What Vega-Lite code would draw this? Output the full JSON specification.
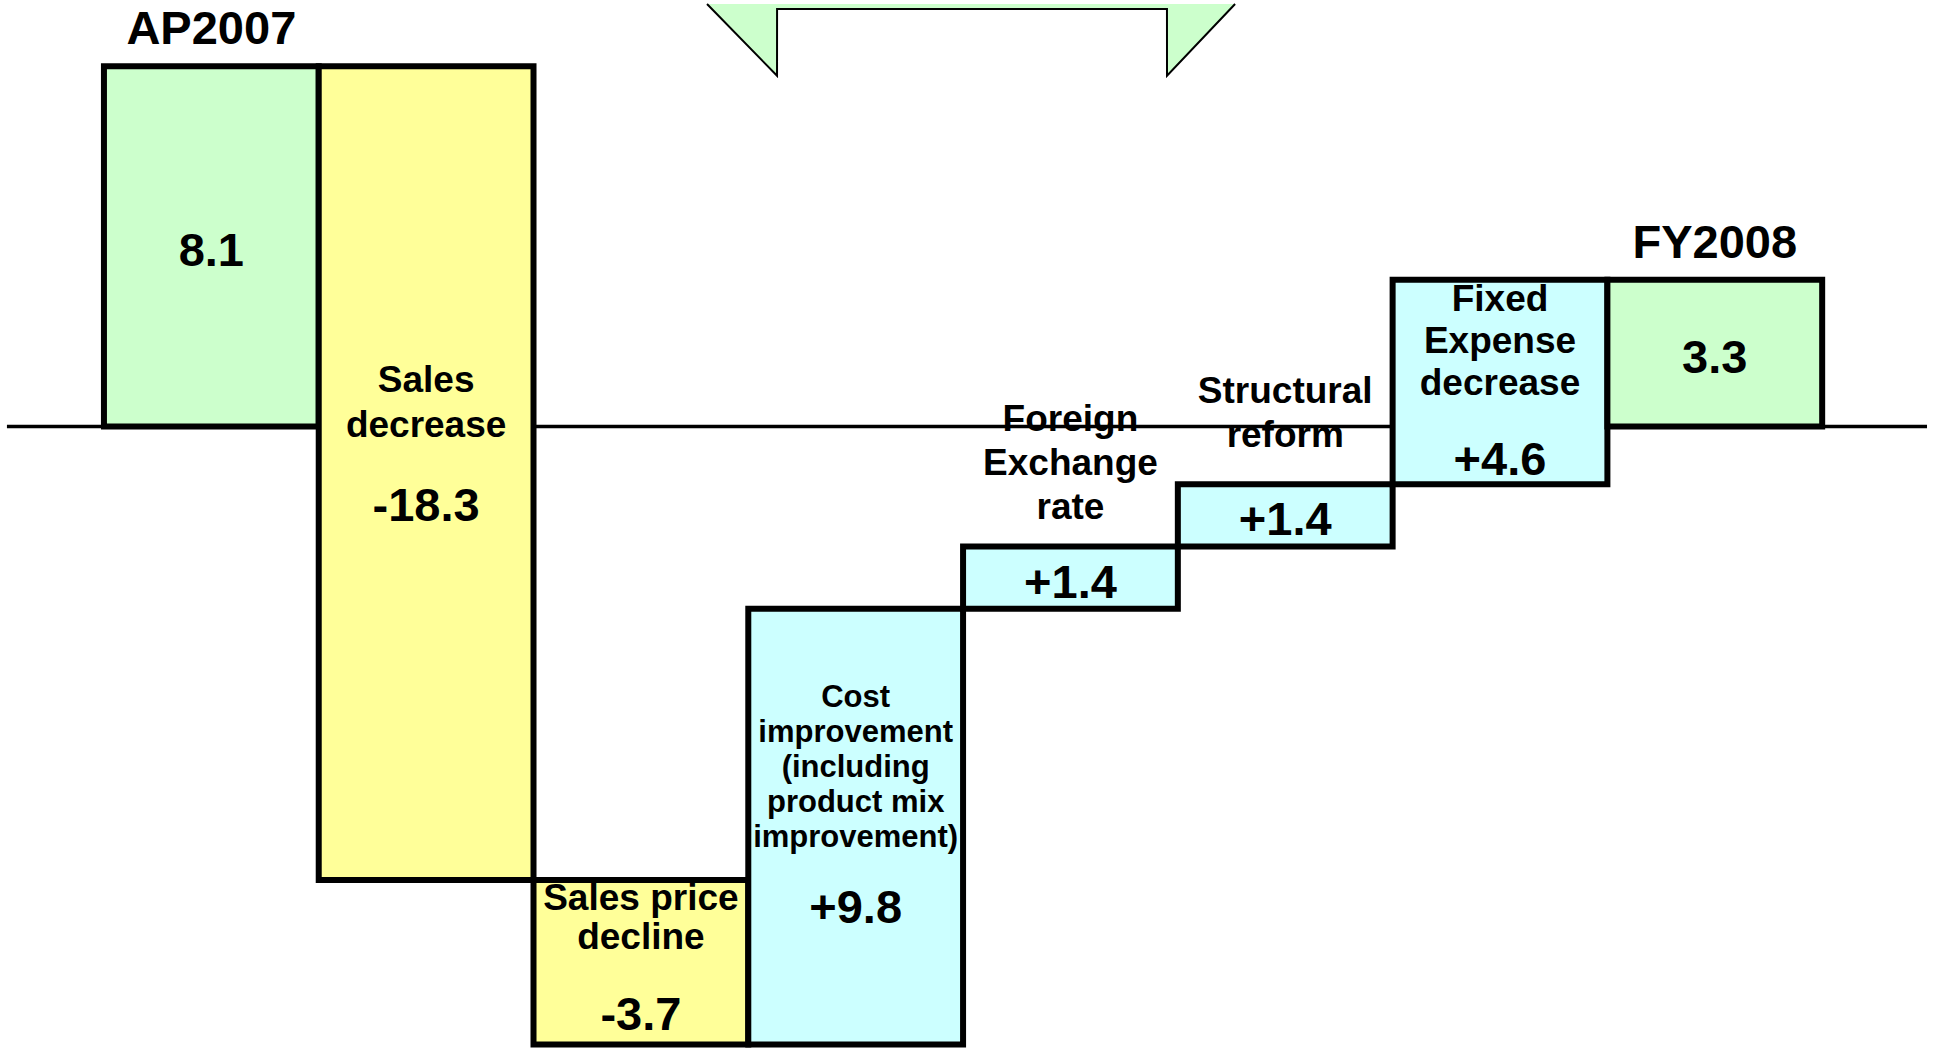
{
  "$schema": "https://vega.github.io/schema/vega-lite/v6.json",
  "width": 1933,
  "height": 1049,
  "autosize": {"type": "fit", "contains": "padding"},
  "padding": 0,
  "background": "white",
  "config": {
    "view": {"stroke": null},
    "text": {"font": "Liberation Sans", "fontWeight": "bold", "color": "black", "align": "center", "lineBreak": "\n"}
  },
  "datasets": {
    "steps": [
      {"step": "AP2007", "label": "AP2007", "kind": "total", "amount": 8.1, "start": 0, "end": 8.1, "value": "8.1"},
      {"step": "Sales decrease", "label": "Sales\ndecrease", "kind": "decrease", "amount": -18.3, "start": 8.1, "end": -10.2, "value": "-18.3"},
      {"step": "Sales price decline", "label": "Sales price\ndecline", "kind": "decrease", "amount": -3.7, "start": -10.2, "end": -13.9, "value": "-3.7"},
      {"step": "Cost improvement", "label": "Cost\nimprovement\n(including\nproduct mix\nimprovement)", "kind": "increase", "amount": 9.8, "start": -13.9, "end": -4.1, "value": "+9.8"},
      {"step": "Foreign Exchange rate", "label": "Foreign\nExchange\nrate", "kind": "increase", "amount": 1.4, "start": -4.1, "end": -2.7, "value": "+1.4"},
      {"step": "Structural reform", "label": "Structural\nreform", "kind": "increase", "amount": 1.4, "start": -2.7, "end": -1.3, "value": "+1.4"},
      {"step": "Fixed Expense decrease", "label": "Fixed\nExpense\ndecrease", "kind": "increase", "amount": 4.6, "start": -1.3, "end": 3.3, "value": "+4.6"},
      {"step": "FY2008", "label": "FY2008", "kind": "total", "amount": 3.3, "start": 0, "end": 3.3, "value": "3.3"}
    ],
    "arrow": [
      {"i": 0, "ax": 2.808, "ay": 9.5},
      {"i": 1, "ax": 3.134, "ay": 7.887},
      {"i": 2, "ax": 3.1342, "ay": 9.388},
      {"i": 3, "ax": 4.9498, "ay": 9.388},
      {"i": 4, "ax": 4.95, "ay": 7.887},
      {"i": 5, "ax": 5.267, "ay": 9.5}
    ]
  },
  "resolve": {"scale": {"x": "independent"}},
  "layer": [
    {
      "data": {"values": [{"z": 0}]},
      "mark": {"type": "rule", "stroke": "black", "strokeWidth": 3.5},
      "encoding": {
        "x": {"datum": -0.452, "type": "quantitative", "scale": {"domain": [-0.4843, 8.5169], "nice": false, "zero": false}, "axis": null},
        "x2": {"datum": 8.489},
        "y": {"field": "z", "type": "quantitative", "scale": {"domain": [-14, 9.5], "nice": false, "zero": false}, "axis": null}
      }
    },
    {
      "data": {"name": "arrow"},
      "mark": {"type": "area", "fill": "#CCFFCC", "opacity": 1},
      "encoding": {
        "x": {"field": "ax", "type": "quantitative", "scale": {"domain": [-0.4843, 8.5169], "nice": false, "zero": false}, "axis": null},
        "y": {"field": "ay", "type": "quantitative", "stack": null, "scale": {"domain": [-14, 9.5], "nice": false, "zero": false}, "axis": null},
        "y2": {"datum": 9.5}
      }
    },
    {
      "data": {"name": "arrow"},
      "mark": {"type": "line", "stroke": "black", "strokeWidth": 2},
      "encoding": {
        "x": {"field": "ax", "type": "quantitative", "scale": {"domain": [-0.4843, 8.5169], "nice": false, "zero": false}, "axis": null},
        "y": {"field": "ay", "type": "quantitative", "scale": {"domain": [-14, 9.5], "nice": false, "zero": false}, "axis": null},
        "order": {"field": "i", "type": "quantitative"}
      }
    },
    {
      "data": {"name": "steps"},
      "mark": {"type": "bar", "stroke": "black", "strokeWidth": 6},
      "encoding": {
        "x": {"field": "step", "type": "nominal", "axis": null, "scale": {"type": "band", "domain": ["AP2007", "Sales decrease", "Sales price decline", "Cost improvement", "Foreign Exchange rate", "Structural reform", "Fixed Expense decrease", "FY2008"], "paddingInner": 0, "paddingOuter": 0.5, "align": 0.484}},
        "y": {"field": "start", "type": "quantitative", "scale": {"domain": [-14, 9.5], "nice": false, "zero": false}, "axis": null},
        "y2": {"field": "end"},
        "fill": {"field": "kind", "type": "nominal", "scale": {"domain": ["total", "decrease", "increase"], "range": ["#CCFFCC", "#FFFF99", "#CCFFFF"]}, "legend": null}
      }
    },
    {
      "data": {"name": "steps"},
      "transform": [
        {"filter": {"field": "step", "oneOf": ["AP2007", "FY2008", "Foreign Exchange rate", "Structural reform"]}},
        {"fold": ["start", "end"], "as": ["k", "v"]}
      ],
      "mark": {"type": "text", "fontSize": 47, "baseline": "middle", "dy": 6},
      "encoding": {
        "x": {"field": "step", "type": "nominal", "axis": null, "scale": {"type": "band", "domain": ["AP2007", "Sales decrease", "Sales price decline", "Cost improvement", "Foreign Exchange rate", "Structural reform", "Fixed Expense decrease", "FY2008"], "paddingInner": 0, "paddingOuter": 0.5, "align": 0.484}},
        "y": {"aggregate": "mean", "field": "v", "type": "quantitative", "scale": {"domain": [-14, 9.5], "nice": false, "zero": false}, "axis": null},
        "text": {"field": "value", "type": "nominal"}
      }
    },
    {
      "data": {"name": "steps"},
      "transform": [{"filter": {"field": "step", "oneOf": ["AP2007", "FY2008"]}}],
      "mark": {"type": "text", "fontSize": 47, "baseline": "alphabetic", "dy": -22},
      "encoding": {
        "x": {"field": "step", "type": "nominal", "axis": null, "scale": {"type": "band", "domain": ["AP2007", "Sales decrease", "Sales price decline", "Cost improvement", "Foreign Exchange rate", "Structural reform", "Fixed Expense decrease", "FY2008"], "paddingInner": 0, "paddingOuter": 0.5, "align": 0.484}},
        "y": {"field": "end", "type": "quantitative", "scale": {"domain": [-14, 9.5], "nice": false, "zero": false}, "axis": null},
        "text": {"field": "label", "type": "nominal"}
      }
    },
    {
      "data": {"name": "steps"},
      "transform": [{"filter": {"field": "step", "equal": "Foreign Exchange rate"}}],
      "mark": {"type": "text", "fontSize": 37, "lineHeight": 44, "baseline": "alphabetic", "dy": -116},
      "encoding": {
        "x": {"field": "step", "type": "nominal", "axis": null, "scale": {"type": "band", "domain": ["AP2007", "Sales decrease", "Sales price decline", "Cost improvement", "Foreign Exchange rate", "Structural reform", "Fixed Expense decrease", "FY2008"], "paddingInner": 0, "paddingOuter": 0.5, "align": 0.484}},
        "y": {"field": "end", "type": "quantitative", "scale": {"domain": [-14, 9.5], "nice": false, "zero": false}, "axis": null},
        "text": {"field": "label", "type": "nominal"}
      }
    },
    {
      "data": {"name": "steps"},
      "transform": [{"filter": {"field": "step", "equal": "Structural reform"}}],
      "mark": {"type": "text", "fontSize": 37, "lineHeight": 44, "baseline": "alphabetic", "dy": -81},
      "encoding": {
        "x": {"field": "step", "type": "nominal", "axis": null, "scale": {"type": "band", "domain": ["AP2007", "Sales decrease", "Sales price decline", "Cost improvement", "Foreign Exchange rate", "Structural reform", "Fixed Expense decrease", "FY2008"], "paddingInner": 0, "paddingOuter": 0.5, "align": 0.484}},
        "y": {"field": "end", "type": "quantitative", "scale": {"domain": [-14, 9.5], "nice": false, "zero": false}, "axis": null},
        "text": {"field": "label", "type": "nominal"}
      }
    },
    {
      "data": {"name": "steps"},
      "transform": [{"filter": {"field": "step", "equal": "Sales decrease"}}, {"fold": ["start", "end"], "as": ["k", "v"]}],
      "layer": [
        {"mark": {"type": "text", "fontSize": 37, "lineHeight": 45, "baseline": "alphabetic", "dy": -81}, "encoding": {"text": {"field": "label", "type": "nominal"}}},
        {"mark": {"type": "text", "fontSize": 47, "baseline": "middle", "dy": 34}, "encoding": {"text": {"field": "value", "type": "nominal"}}}
      ],
      "encoding": {
        "x": {"field": "step", "type": "nominal", "axis": null, "scale": {"type": "band", "domain": ["AP2007", "Sales decrease", "Sales price decline", "Cost improvement", "Foreign Exchange rate", "Structural reform", "Fixed Expense decrease", "FY2008"], "paddingInner": 0, "paddingOuter": 0.5, "align": 0.484}},
        "y": {"aggregate": "mean", "field": "v", "type": "quantitative", "scale": {"domain": [-14, 9.5], "nice": false, "zero": false}, "axis": null}
      }
    },
    {
      "data": {"name": "steps"},
      "transform": [{"filter": {"field": "step", "equal": "Sales price decline"}}, {"fold": ["start", "end"], "as": ["k", "v"]}],
      "layer": [
        {"mark": {"type": "text", "fontSize": 37, "lineHeight": 39, "baseline": "alphabetic", "dy": -52}, "encoding": {"text": {"field": "label", "type": "nominal"}}},
        {"mark": {"type": "text", "fontSize": 47, "baseline": "middle", "dy": 54}, "encoding": {"text": {"field": "value", "type": "nominal"}}}
      ],
      "encoding": {
        "x": {"field": "step", "type": "nominal", "axis": null, "scale": {"type": "band", "domain": ["AP2007", "Sales decrease", "Sales price decline", "Cost improvement", "Foreign Exchange rate", "Structural reform", "Fixed Expense decrease", "FY2008"], "paddingInner": 0, "paddingOuter": 0.5, "align": 0.484}},
        "y": {"aggregate": "mean", "field": "v", "type": "quantitative", "scale": {"domain": [-14, 9.5], "nice": false, "zero": false}, "axis": null}
      }
    },
    {
      "data": {"name": "steps"},
      "transform": [{"filter": {"field": "step", "equal": "Cost improvement"}}, {"fold": ["start", "end"], "as": ["k", "v"]}],
      "layer": [
        {"mark": {"type": "text", "fontSize": 31, "lineHeight": 35, "baseline": "alphabetic", "dy": -120}, "encoding": {"text": {"field": "label", "type": "nominal"}}},
        {"mark": {"type": "text", "fontSize": 47, "baseline": "middle", "dy": 82}, "encoding": {"text": {"field": "value", "type": "nominal"}}}
      ],
      "encoding": {
        "x": {"field": "step", "type": "nominal", "axis": null, "scale": {"type": "band", "domain": ["AP2007", "Sales decrease", "Sales price decline", "Cost improvement", "Foreign Exchange rate", "Structural reform", "Fixed Expense decrease", "FY2008"], "paddingInner": 0, "paddingOuter": 0.5, "align": 0.484}},
        "y": {"aggregate": "mean", "field": "v", "type": "quantitative", "scale": {"domain": [-14, 9.5], "nice": false, "zero": false}, "axis": null}
      }
    },
    {
      "data": {"name": "steps"},
      "transform": [{"filter": {"field": "step", "equal": "Fixed Expense decrease"}}, {"fold": ["start", "end"], "as": ["k", "v"]}],
      "layer": [
        {"mark": {"type": "text", "fontSize": 37, "lineHeight": 42, "baseline": "alphabetic", "dy": -71}, "encoding": {"text": {"field": "label", "type": "nominal"}}},
        {"mark": {"type": "text", "fontSize": 47, "baseline": "middle", "dy": 79}, "encoding": {"text": {"field": "value", "type": "nominal"}}}
      ],
      "encoding": {
        "x": {"field": "step", "type": "nominal", "axis": null, "scale": {"type": "band", "domain": ["AP2007", "Sales decrease", "Sales price decline", "Cost improvement", "Foreign Exchange rate", "Structural reform", "Fixed Expense decrease", "FY2008"], "paddingInner": 0, "paddingOuter": 0.5, "align": 0.484}},
        "y": {"aggregate": "mean", "field": "v", "type": "quantitative", "scale": {"domain": [-14, 9.5], "nice": false, "zero": false}, "axis": null}
      }
    }
  ]
}
